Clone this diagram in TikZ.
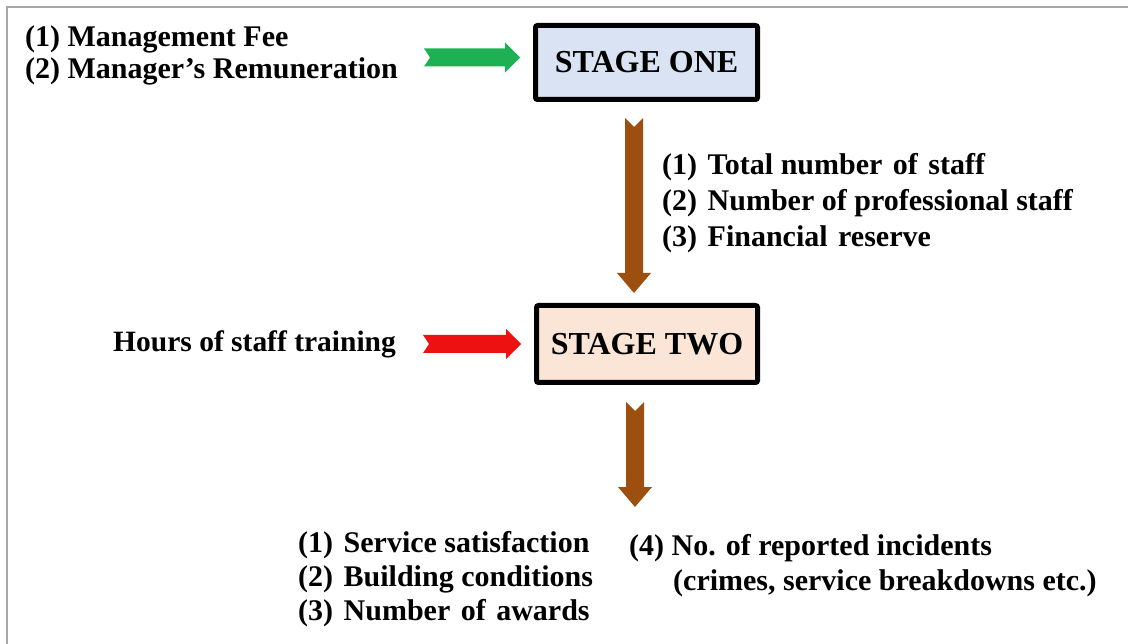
\documentclass[tikz,border=0pt]{standalone}
\usepackage{fontspec}
\setmainfont{Liberation Serif}
\definecolor{arrgreen}{HTML}{1DB154}
\definecolor{arrred}{HTML}{EE1111}
\definecolor{arrbrown}{HTML}{9C4F0F}
\definecolor{fillone}{HTML}{DAE3F3}
\definecolor{filltwo}{HTML}{FBE5D6}
\definecolor{framegray}{HTML}{A8A8A8}
\tikzset{
  lbl/.style={anchor=base west, inner sep=0pt, font=\fontsize{30}{35}\selectfont\bfseries},
  stagebox/.style={draw=black, line width=5pt, rounded corners=2pt, inner sep=0pt,
    font=\fontsize{32}{38}\selectfont\bfseries},
  blockarrow/.style={draw=none}
}
\newcommand{\gap}{\hspace{0.35em}}
% right-pointing notched arrow: tail x, tip x, centre y, colour
\newcommand{\rightblock}[4]{%
  \fill[#4] (#1,#3-9) -- (#2-15,#3-9) -- (#2-15,#3-15) -- (#2,#3) -- (#2-15,#3+15)
    -- (#2-15,#3+9) -- (#1,#3+9) -- (#1+6,#3) -- cycle;}
% down-pointing notched arrow: centre x, top y, tip y, colour
\newcommand{\downblock}[4]{%
  \fill[#4] (#1-9,#2) -- (#1,#2+9) -- (#1+9,#2) -- (#1+9,#3-20) -- (#1+17,#3-20)
    -- (#1,#3) -- (#1-17,#3-20) -- (#1-9,#3-20) -- cycle;}
\begin{document}
\begin{tikzpicture}[x=1pt,y=-1pt]
\useasboundingbox (0,0) rectangle (1128,644);
\fill[white] (0,0) rectangle (1128,644);
\draw[framegray, line width=1.5pt] (7,644) -- (7,7) -- (1128,7);

% stage boxes
\node[stagebox, fill=fillone, minimum width=222pt, minimum height=74pt] (s1) at (646.5,62.5) {STAGE ONE};
\node[stagebox, fill=filltwo, minimum width=221pt, minimum height=77pt] (s2) at (647,344) {STAGE TWO};

% block arrows
\rightblock{424}{520}{57.5}{arrgreen}
\rightblock{423}{521}{344}{arrred}
\downblock{634}{118}{293}{arrbrown}
\downblock{635}{402}{507}{arrbrown}

% labels
\node[lbl] (mg1) at (25,47) {(1) Management Fee};
\node[lbl] (mg2) at (25,79) {(2) Manager’s Remuneration};

\node[lbl] (ts1) at (662,175) {(1)\gap Total number\gap of\gap staff};
\node[lbl] (ts2) at (662,211) {(2)\gap Number of professional staff};
\node[lbl] (ts3) at (662,247) {(3)\gap Financial\gap reserve};

\node[lbl, font=\fontsize{29.5}{35}\selectfont\bfseries] (hr) at (113,352) {Hours of staff training};

\node[lbl] (ss1) at (298,552) {(1)\gap Service satisfaction};
\node[lbl] (ss2) at (298,586) {(2)\gap Building conditions};
\node[lbl] (ss3) at (298,620) {(3)\gap Number\gap of\gap awards};

\node[lbl] (in1) at (629,555) {(4) No. of reported incidents};
\node[lbl] (in2) at (673,590) {(crimes, service breakdowns etc.)};
\end{tikzpicture}
\end{document}
